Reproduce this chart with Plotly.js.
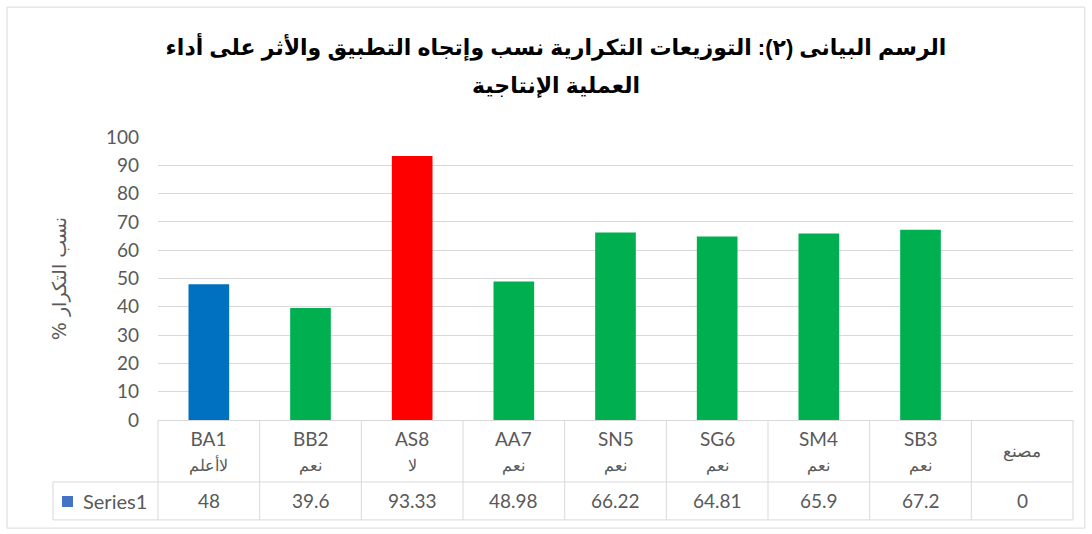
<!DOCTYPE html>
<html>
<head>
<meta charset="utf-8">
<script src="https://cdn.plot.ly/plotly-3.0.1.min.js"></script>
<style>
  html, body { margin: 0; padding: 0; background: #ffffff; }
  #chart { width: 1092px; height: 534px; }
</style>
</head>
<body>
<div id="chart"></div>
<script>
// ---- data ----
const categories = ['BA1', 'BB2', 'AS8', 'AA7', 'SN5', 'SG6', 'SM4', 'SB3', 'مصنع'];
const subLabels  = ['لاأعلم', 'نعم', 'لا', 'نعم', 'نعم', 'نعم', 'نعم', 'نعم', ''];
const values     = [48, 39.6, 93.33, 48.98, 66.22, 64.81, 65.9, 67.2, 0];
const barColors  = ['#0070C0', '#00B050', '#FF0000', '#00B050', '#00B050', '#00B050', '#00B050', '#00B050', '#00B050'];
const yTicks     = [0, 10, 20, 30, 40, 50, 60, 70, 80, 90, 100];
const seriesName = 'Series1';
const titleLines = ['الرسم البيانى (٢): التوزيعات التكرارية نسب وإتجاه التطبيق والأثر على أداء', 'العملية الإنتاجية'];
const yTitle     = '% نسب التكرار';

// ---- style ----
const gray = '#595959';
const lineCol = '#d9d9d9';
const numFont = 'Lato, "Open Sans", sans-serif';
const titleFont = {family: '"Liberation Sans", Arial, "DejaVu Sans", sans-serif', size: 22, color: '#000000', weight: 'bold'};
const n = categories.length;

const headerY = -0.1095;   // header row centre (paper)
const rowTop = -0.219;     // line between header and value row
const rowBottom = -0.353;  // bottom of table
const valueY = -0.286;     // value row centre
const cellLeft = -0.1148;  // left edge of the series-name cell

const shapes = [];
for (let k = 0; k <= n; k++) {
  shapes.push({type: 'line', xref: 'paper', yref: 'paper', x0: k / n, x1: k / n, y0: 0, y1: rowBottom,
               line: {color: lineCol, width: 1}});
}
shapes.push({type: 'line', xref: 'paper', yref: 'paper', x0: cellLeft, x1: 1, y0: rowTop, y1: rowTop, line: {color: lineCol, width: 1}});
shapes.push({type: 'line', xref: 'paper', yref: 'paper', x0: cellLeft, x1: 1, y0: rowBottom, y1: rowBottom, line: {color: lineCol, width: 1}});
shapes.push({type: 'line', xref: 'paper', yref: 'paper', x0: cellLeft, x1: cellLeft, y0: rowTop, y1: rowBottom, line: {color: lineCol, width: 1}});
// legend key square
shapes.push({type: 'rect', xref: 'paper', yref: 'paper', x0: -0.1049, x1: -0.0929, y0: -0.2686, y1: -0.3074,
             line: {width: 0}, fillcolor: '#4472C4'});
// outer chart border
shapes.push({type: 'rect', xref: 'paper', yref: 'paper', x0: -0.165, x1: 1.013, y0: -0.382, y1: 1.459,
             line: {color: lineCol, width: 1}, fillcolor: 'rgba(0,0,0,0)'});

const annotations = [];
categories.forEach((c, i) => {
  const txt = subLabels[i] ? c + '<br><span style="font-size:16px">' + subLabels[i] + '</span>' : '<span style="font-size:17px">' + c + '</span>';
  annotations.push({xref: 'x', yref: 'paper', x: c, y: headerY, yanchor: 'middle', xanchor: 'center',
                    text: txt, showarrow: false, font: {family: numFont, size: 19, color: gray}});
  annotations.push({xref: 'x', yref: 'paper', x: c, y: valueY, yanchor: 'middle', xanchor: 'center',
                    text: String(values[i]), showarrow: false, font: {family: numFont, size: 19, color: gray}});
});
annotations.push({xref: 'paper', yref: 'paper', x: -0.0842, y: valueY, xanchor: 'left', yanchor: 'middle',
                  text: seriesName, showarrow: false, font: {family: numFont, size: 20, color: gray}});
// second title line
annotations.push({xref: 'paper', yref: 'paper', x: (556 - 158) / 915, y: (420 - 85) / 283, xanchor: 'center', yanchor: 'middle',
                  text: titleLines[1], showarrow: false, font: titleFont});

const trace = {
  type: 'bar', x: categories, y: values, name: seriesName,
  marker: {color: barColors, line: {width: 0}},
  hoverinfo: 'x+y'
};

const layout = {
  width: 1092, height: 534,
  margin: {l: 158, r: 19, t: 137, b: 114},
  paper_bgcolor: '#ffffff', plot_bgcolor: '#ffffff',
  showlegend: false,
  bargap: 0.6,
  title: {
    text: titleLines[0],
    x: 556 / 1092, xref: 'container', xanchor: 'center',
    y: 1 - 47 / 534, yref: 'container', yanchor: 'middle',
    font: titleFont
  },
  xaxis: {
    type: 'category', range: [-0.5, n - 0.5], showticklabels: false, ticks: '',
    showgrid: false, zeroline: false, showline: true, linecolor: lineCol, linewidth: 1, fixedrange: true
  },
  yaxis: {
    range: [0, 100], tickvals: yTicks, ticktext: yTicks.map(String), ticks: '', ticklabelstandoff: 18,
    showgrid: true, gridcolor: lineCol, gridwidth: 1, zeroline: false, showline: false,
    tickfont: {family: numFont, size: 19, color: gray}, fixedrange: true,
    title: {text: yTitle, standoff: 34, font: {family: '"DejaVu Sans", sans-serif', size: 19, color: gray}}
  },
  shapes: shapes,
  annotations: annotations
};

Plotly.newPlot('chart', [trace], layout, {displayModeBar: false, staticPlot: true});
</script>
</body>
</html>
